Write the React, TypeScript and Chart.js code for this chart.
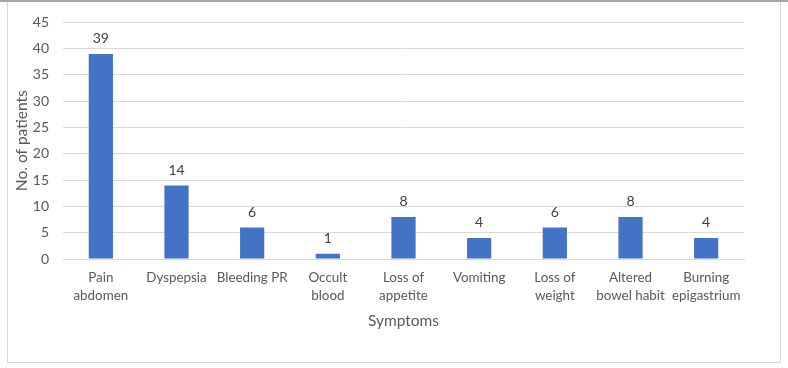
import React, { useEffect, useRef } from "react";
import { Chart, registerables } from "chart.js";

Chart.register(...registerables);

const categories: string[][] = [
  ["Pain", "abdomen"],
  ["Dyspepsia"],
  ["Bleeding PR"],
  ["Occult", "blood"],
  ["Loss of", "appetite"],
  ["Vomiting"],
  ["Loss of", "weight"],
  ["Altered", "bowel habit"],
  ["Burning", "epigastrium"],
];
const patients: number[] = [39, 14, 6, 1, 8, 4, 6, 8, 4];
const yTitle = "No. of patients";
const xTitle = "Symptoms";

const FONT = "Lato, Carlito, Calibri, 'Open Sans', sans-serif";
const TEXT = "#595959";
const GRID = "#d9d9d9";
const BAR = "#4472C4";

const valueLabels = {
  id: "valueLabels",
  afterDatasetsDraw(chart: any) {
    const ctx = chart.ctx;
    const meta = chart.getDatasetMeta(0);
    ctx.save();
    ctx.font = `14px ${FONT}`;
    ctx.fillStyle = "#404040";
    ctx.textAlign = "center";
    ctx.textBaseline = "middle";
    meta.data.forEach((bar: any, i: number) => {
      ctx.fillText(String(patients[i]), bar.x, bar.y - 15);
    });
    ctx.restore();
  },
};

export default function App() {
  const ref = useRef<HTMLCanvasElement | null>(null);
  useEffect(() => {
    if (!ref.current) return;
    const chart = new Chart(ref.current, {
      type: "bar",
      data: {
        labels: categories,
        datasets: [
          {
            data: patients,
            backgroundColor: BAR,
            barPercentage: 0.32,
            categoryPercentage: 1,
          },
        ],
      },
      options: {
        animation: false,
        responsive: false,
        layout: { padding: { top: 22, right: 44, left: 0, bottom: 0 } },
        plugins: { legend: { display: false }, tooltip: { enabled: false } },
        scales: {
          x: {
            grid: { display: false, drawTicks: false },
            border: { display: true, color: GRID },
            ticks: {
              color: TEXT,
              font: { family: FONT, size: 13.4, lineHeight: 1.34 },
              padding: 10,
              maxRotation: 0,
              autoSkip: false,
            },
            title: {
              display: true,
              text: xTitle,
              color: TEXT,
              font: { family: FONT, size: 15.5 },
              padding: { top: 0, bottom: 38 },
            },
            afterFit: (s: any) => {
              s.height = 109;
            },
          },
          y: {
            min: 0,
            max: 45,
            grid: { color: GRID, drawTicks: false },
            border: { display: false },
            ticks: {
              stepSize: 5,
              color: TEXT,
              font: { family: FONT, size: 14 },
              padding: 14,
            },
            title: {
              display: true,
              text: yTitle,
              color: TEXT,
              font: { family: FONT, size: 15.5 },
              padding: { top: 13, bottom: 0 },
            },
            afterFit: (s: any) => {
              s.width = 63;
            },
          },
        },
      },
      plugins: [valueLabels],
    });
    return () => chart.destroy();
  }, []);

  return (
    <div style={{ position: "absolute", left: 0, top: 0, width: 788, height: 368, background: "#fff" }}>
      <div style={{ position: "absolute", left: 0, top: 0, width: 788, height: 2, background: "#a6a6a6" }} />
      <div
        style={{
          position: "absolute",
          left: 7,
          top: 2,
          width: 772,
          height: 360,
          border: "1px solid #d9d9d9",
          borderTop: "none",
        }}
      />
      <canvas ref={ref} width={788} height={368} style={{ position: "absolute", left: 0, top: 0 }} />
    </div>
  );
}
